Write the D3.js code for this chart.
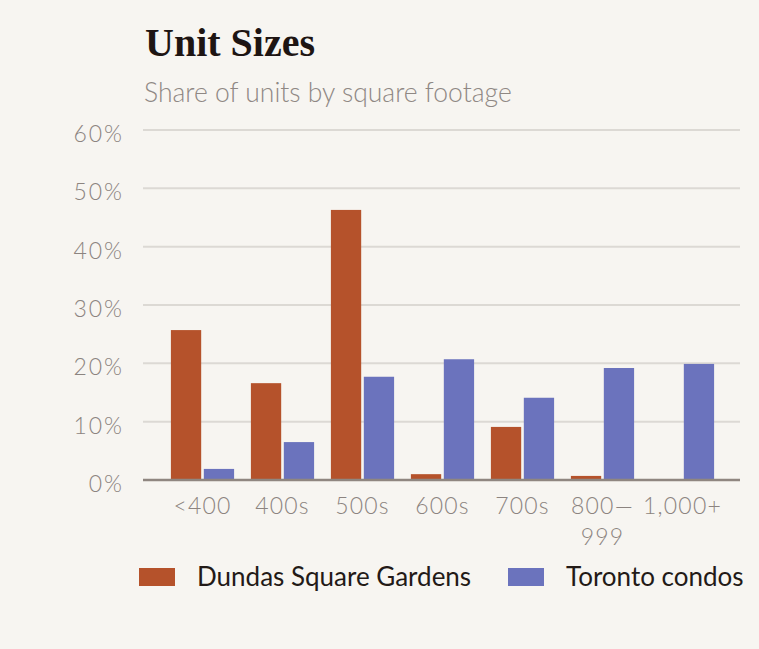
<!DOCTYPE html>
<html>
<head>
<meta charset="utf-8">
<script src="https://cdn.jsdelivr.net/npm/d3@7"></script>
<style>
  body { margin: 0; background: #f7f5f1; }
  svg { display: block; }
</style>
</head>
<body>
<div id="chart"></div>
<script>
// data
var categories = ["<400", "400s", "500s", "600s", "700s", "800—999", "1,000+"]
var seriesNames = ["Dundas Square Gardens", "Toronto condos"]
var dundasValues = [25.7, 16.6, 46.3, 1.0, 9.1, 0.7, 0]
var torontoValues = [1.9, 6.5, 17.7, 20.7, 14.1, 19.2, 19.9]
var yTicks = [0, 10, 20, 30, 40, 50, 60]

var colors = ["#b5522b", "#6b73bd"]

var width = 759, height = 649

var svg = d3.select("#chart").append("svg")
            .attr("width", width)
            .attr("height", height)

svg.append("rect").attr("width", width).attr("height", height).style("fill", "#f7f5f1")

// title + subtitle
svg.append("text").text("Unit Sizes")
   .attr("x", 145)
   .attr("y", 56)
   .style("font-family", "Liberation Serif, serif")
   .style("font-weight", "bold")
   .style("font-size", "40px")
   .style("fill", "#1e1513")

svg.append("text").text("Share of units by square footage")
   .attr("x", 144)
   .attr("y", 102)
   .style("font-family", "Lato, sans-serif")
   .style("font-weight", 300)
   .style("font-size", "26.5px")
   .style("fill", "#8f8884")

var plot = {left: 143, right: 740, top: 130, bottom: 480}

var y = d3.scaleLinear().domain([0, 60]).range([plot.bottom, plot.top])

var x0 = d3.scaleBand().domain(categories)
           .range([162.5, 722.5])
           .paddingInner(0.21)
           .paddingOuter(0.105)

var x1 = d3.scaleBand().domain(seriesNames)
           .range([0, x0.bandwidth()])
           .paddingInner(0.08)

// gridlines
svg.append("g").selectAll("line").data(yTicks.filter(d => d > 0))
   .enter().append("line")
   .attr("x1", plot.left)
   .attr("x2", plot.right)
   .attr("y1", d => y(d))
   .attr("y2", d => y(d))
   .style("stroke", "#dcd9d4")
   .style("stroke-width", 2)

// y labels
svg.append("g").selectAll("text").data(yTicks)
   .enter().append("text")
   .text(d => d + "%")
   .attr("x", 124)
   .attr("y", d => y(d) + 12)
   .attr("text-anchor", "end")
   .style("font-family", "Lato, sans-serif")
   .style("font-weight", 300)
   .style("font-size", "23px")
   .style("letter-spacing", "2px")
   .style("fill", "#8c8480")

// bars
var rows = categories.map((c, i) => ({cat: c, vals: [dundasValues[i], torontoValues[i]]}))

var groups = svg.append("g").selectAll("g").data(rows)
   .enter().append("g")
   .attr("transform", d => `translate(${x0(d.cat)},0)`)

groups.selectAll("rect")
   .data(d => d.vals.map((v, j) => ({name: seriesNames[j], value: v, j: j})))
   .enter().append("rect")
   .attr("x", d => x1(d.name))
   .attr("width", x1.bandwidth())
   .attr("y", d => y(d.value))
   .attr("height", d => y(0) - y(d.value))
   .style("fill", d => colors[d.j])

// baseline
svg.append("line")
   .attr("x1", plot.left)
   .attr("x2", plot.right)
   .attr("y1", y(0))
   .attr("y2", y(0))
   .style("stroke", "#8f8680")
   .style("stroke-width", 2.5)

// x labels (800—999 wraps onto two lines)
var xLabels = svg.append("g").selectAll("text").data(categories)
   .enter().append("text")
   .attr("x", d => x0(d) + x0.bandwidth() / 2)
   .attr("y", 514)
   .attr("text-anchor", "middle")
   .style("font-family", "Lato, sans-serif")
   .style("font-weight", 300)
   .style("font-size", "23px")
   .style("letter-spacing", "1.2px")
   .style("fill", "#8c8480")

xLabels.each(function(d) {
  var parts = d.indexOf("—") > -1 ? [d.split("—")[0] + "—", d.split("—")[1]] : [d]
  var t = d3.select(this)
  parts.forEach(function(p, k) {
    t.append("tspan")
     .attr("x", x0(d) + x0.bandwidth() / 2)
     .attr("dy", k == 0 ? 0 : 31)
     .text(p)
  })
})

// legend
var legendX = [139, 508]
var legend = svg.append("g").selectAll("g").data(seriesNames)
   .enter().append("g")
   .attr("transform", (d, i) => `translate(${legendX[i]},568)`)

legend.append("rect")
   .attr("width", 36)
   .attr("height", 18)
   .style("fill", (d, i) => colors[i])

legend.append("text")
   .text(d => d)
   .attr("x", 58)
   .attr("y", 18)
   .style("font-family", "Lato, sans-serif")
   .style("font-size", "26px")
   .style("fill", "#231a17")
</script>
</body>
</html>
